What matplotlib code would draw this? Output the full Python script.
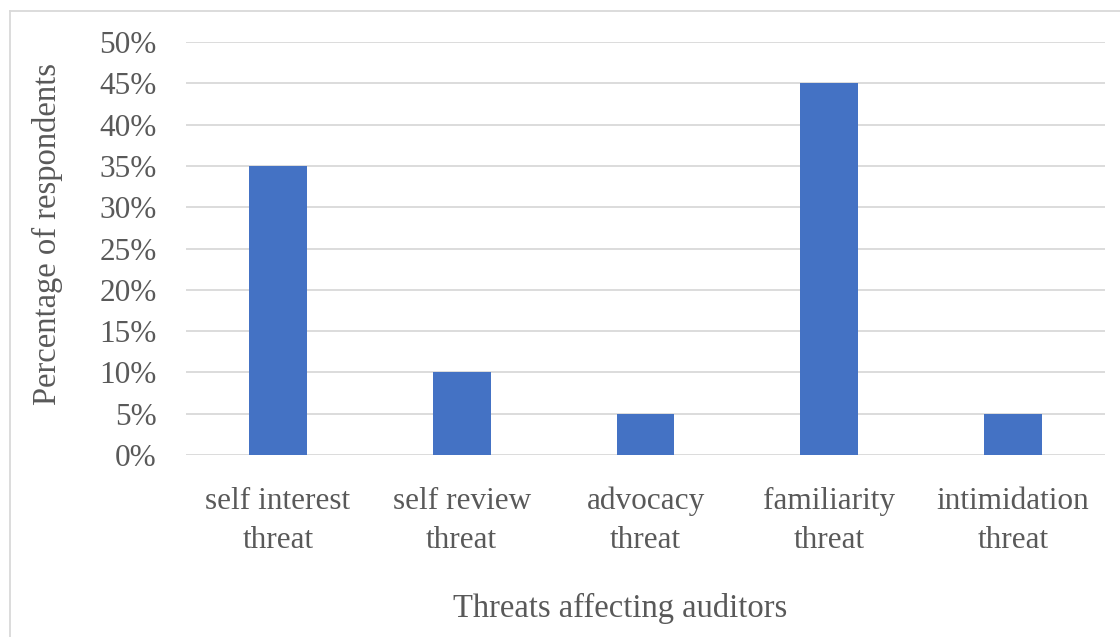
import matplotlib
matplotlib.use("Agg")
import matplotlib.pyplot as plt
from matplotlib.lines import Line2D
from matplotlib.ticker import PercentFormatter

# chart data
categories = ["self interest\nthreat", "self review\nthreat", "advocacy\nthreat",
              "familiarity\nthreat", "intimidation\nthreat"]
percentages = [35, 10, 5, 45, 5]
y_ticks = [0, 5, 10, 15, 20, 25, 30, 35, 40, 45, 50]

W, H = 1120, 637
text_color = "#595959"
grid_color = "#d9d9d9"
fs = 22.5
title_fs = 23.5

plt.rcParams['font.family'] = ['Liberation Serif', 'DejaVu Serif']

fig = plt.figure(figsize=(W / 100, H / 100), dpi=100)
ax = fig.add_axes([186 / W, 1 - 455 / H, (1105 - 186) / W, (455 - 42) / H])

x = range(len(categories))
ax.bar(x, percentages, width=0.315, color="#4472C4", zorder=3)

ax.set_xlim(-0.5, len(categories) - 0.5)
ax.set_ylim(0, 50)
ax.set_yticks(y_ticks)
ax.yaxis.set_major_formatter(PercentFormatter(decimals=0))
ax.set_xticks(list(x))
ax.set_xticklabels(categories, linespacing=1.45)

ax.grid(axis="y", color=grid_color, linewidth=1.3, zorder=0)
for s in ax.spines.values():
    s.set_visible(False)
ax.tick_params(axis="both", length=0, labelsize=fs, colors=text_color)
ax.tick_params(axis="x", pad=23)
ax.tick_params(axis="y", pad=21)

fig.text(47 / W, 1 - 234 / H, "Percentage of respondents", rotation=90,
         ha="center", va="center", fontsize=title_fs, color=text_color)
fig.text(620 / W, 1 - 608 / H, "Threats affecting auditors",
         ha="center", va="center", fontsize=title_fs, color=text_color)

# chart area border (only top/left visible in the crop)
fig.add_artist(Line2D([10 / W, 10 / W], [0, 1 - 11 / H], color=grid_color,
                      linewidth=1.3, transform=fig.transFigure))
fig.add_artist(Line2D([10 / W, 1], [1 - 11 / H, 1 - 11 / H], color=grid_color,
                      linewidth=1.3, transform=fig.transFigure))

fig.savefig("out.png", dpi=100)
